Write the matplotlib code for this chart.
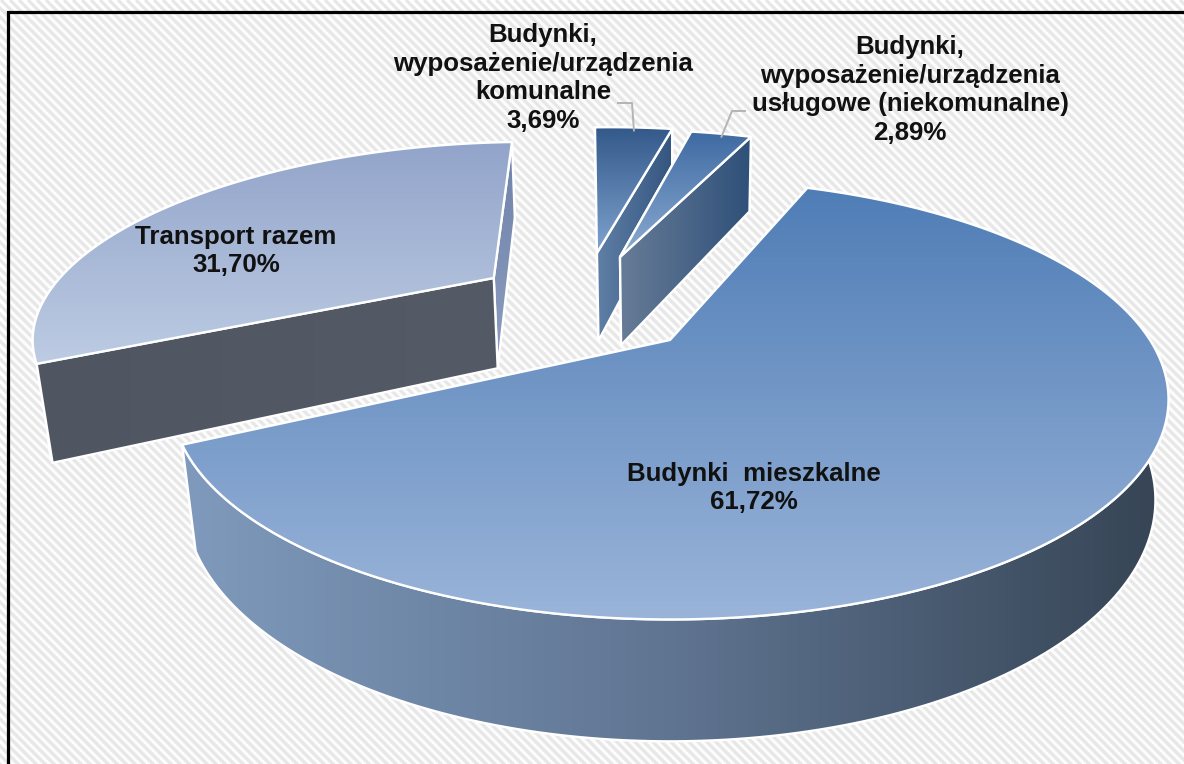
import numpy as np
import matplotlib
matplotlib.use('Agg')
import matplotlib.pyplot as plt
from matplotlib.colors import LinearSegmentedColormap
from matplotlib.patches import PathPatch, Polygon, Rectangle
from matplotlib.path import Path

# data
names = ['Budynki  mieszkalne', 'Transport razem',
         'Budynki,\nwyposażenie/urządzenia\nkomunalne',
         'Budynki,\nwyposażenie/urządzenia\nusługowe (niekomunalne)']
shares = [61.72, 31.70, 3.69, 2.89]
first_angle = 291.0  # clockwise on screen

# pie look
explode = [(0.0, 0.0), (-0.40, -0.331), (-0.172, -0.482), (-0.117, -0.457)]
radius = [1.0, 0.985, 0.97, 0.97]
top_cols = [('#4f7db6', '#9ab4d9'), ('#92a4ca', '#bdcce3'),
            ('#33598a', '#7fa3cf'), ('#3e6aa2', '#8cacd2')]
rim_cols = [('#7f9abc', '#5f7491', '#364454'), ('#4f5561', '#4f5561'),
            ('#5f7fa6', '#34557f'), ('#5f7fa6', '#34557f')]
front_cols = [('#4f5561', '#4f5561'), ('#4f5561', '#545a66'),
              ('#5f7fa6', '#34557f'), ('#677c97', '#2f5079')]
back_cols = [('#4f5561', '#4f5561'), ('#6f82aa', '#8d9dbf'),
             ('#5f7fa6', '#5f7fa6'), ('#5f7fa6', '#5f7fa6')]

# projection
cx, cy = 670, 340
A, B = 480, 204
k = 0.27
D, m = 99, 0.025


def project(u, v, z=0.0):
    w = 1 - k * v + m * z
    return cx + A * u / w, cy + (B * v + D * z) / w


def grad_fill(ax, xy, cols, horizontal, zorder):
    xy = np.asarray(xy)
    cmap = LinearSegmentedColormap.from_list('g', cols)
    g = np.linspace(0, 1, 256)
    g = g[None, :] if horizontal else g[:, None]
    x0, x1, y0, y1 = xy[:, 0].min(), xy[:, 0].max(), xy[:, 1].min(), xy[:, 1].max()
    if x1 - x0 < 1:
        x1 = x0 + 1
    im = ax.imshow(g, cmap=cmap, aspect='auto', extent=(x0, x1, y1, y0), zorder=zorder,
                   vmin=0, vmax=1, interpolation='bilinear')
    clip = PathPatch(Path(np.vstack([xy, xy[:1]]), closed=True), transform=ax.transData)
    im.set_clip_path(clip)
    ax.add_patch(Polygon(xy, closed=True, fill=False, ec='white', lw=1.7, zorder=zorder, joinstyle='round'))


fig = plt.figure(figsize=(11.84, 7.64), dpi=100)
ax = fig.add_axes([0, 0, 1, 1])
ax.set_axis_off()

# background with diagonal stripes
bg = Rectangle((9, 13), 1175, 751, fc='#fcfcfc', ec='none', zorder=0)
ax.add_patch(bg)
for off in np.arange(-800, 1200, 9):
    ax.plot([off, off + 800], [0, 800], color='#e7e7e7', lw=2.3, zorder=0.5, clip_path=bg, solid_capstyle='butt')
ax.plot([7.5, 7.5, 1184], [764, 11.5, 11.5], color='black', lw=2.3, zorder=0.8, solid_joinstyle='miter')

# slice angles from the values
sweep = np.array(shares) / sum(shares) * 360
start = first_angle + np.concatenate([[0], np.cumsum(sweep)[:-1]])
end = start + sweep
rim_mid = {}

z = 1
for i in [1, 2, 3, 0]:
    du, dv = explode[i]
    t = np.radians(np.linspace(start[i], end[i], 200))
    u = du + radius[i] * np.cos(t)
    v = dv + radius[i] * np.sin(t)
    top = np.column_stack(project(u, v))
    bot = np.column_stack(project(u, v, 1.0))
    apex = np.array(project(du, dv))
    apex_low = np.array(project(du, dv, 1.0))

    rim = np.vstack([top, bot[::-1]])
    cut_a = np.array([apex, top[0], bot[0], apex_low])
    cut_b = np.array([apex, top[-1], bot[-1], apex_low])
    slice_top = np.vstack([apex, top])

    # far cut face first, then the near one
    if i == 1:
        grad_fill(ax, rim, rim_cols[i], True, z)
        grad_fill(ax, cut_b, back_cols[i], False, z + 0.1)
        grad_fill(ax, cut_a, front_cols[i], True, z + 0.2)
    elif i == 0:
        grad_fill(ax, cut_a, back_cols[i], False, z)
        grad_fill(ax, cut_b, front_cols[i], True, z + 0.1)
        grad_fill(ax, rim, rim_cols[i], True, z + 0.2)
    else:
        grad_fill(ax, rim, rim_cols[i], True, z)
        grad_fill(ax, cut_a, back_cols[i], True, z + 0.1)
        grad_fill(ax, cut_b, front_cols[i], True, z + 0.2)
    grad_fill(ax, slice_top, top_cols[i], False, z + 0.3)
    rim_mid[i] = top[100]
    z += 1

ax.set_xlim(0, 1184)
ax.set_ylim(764, 0)

# labels
font = dict(family=['Liberation Sans', 'DejaVu Sans'], weight='bold', color='#111111', fontsize=18.6,
            ha='center', va='center', linespacing=1.25, zorder=20)
label_pos = [(754, 488), (236, 251), (543, 78), (910, 90)]
for i in range(4):
    pct = f'{shares[i]:.2f}%'.replace('.', ',')
    ax.text(label_pos[i][0], label_pos[i][1], names[i] + '\n' + pct, **font)

# leader lines of the small slices
elbows = [[(618, 103), (632, 103)], [(745, 111), (732, 111)]]
for i, pts in zip([2, 3], elbows):
    xs = [p[0] for p in pts] + [rim_mid[i][0]]
    ys = [p[1] for p in pts] + [rim_mid[i][1] + 3]
    ax.plot(xs, ys, color='#b4b4b4', lw=1.4, zorder=19)

fig.savefig('out.png', dpi=100)
